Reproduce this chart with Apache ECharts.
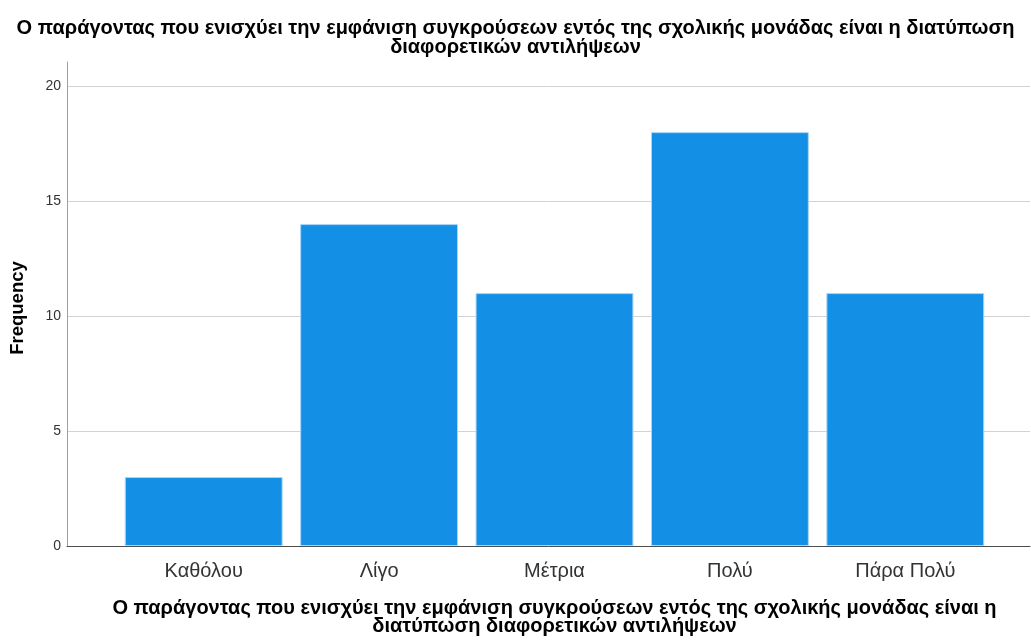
<!DOCTYPE html>
<html>
<head>
<meta charset="utf-8">
<script src="https://cdn.jsdelivr.net/npm/echarts@6/dist/echarts.min.js"></script>
<style>
  html, body { margin: 0; padding: 0; background: #fff; }
  #main { width: 1031px; height: 641px; }
</style>
</head>
<body>
<div id="main"></div>
<script>
var titleText = 'Ο παράγοντας που ενισχύει την εμφάνιση συγκρούσεων εντός της σχολικής μονάδας είναι η διατύπωση\nδιαφορετικών αντιλήψεων';
var axisTitle = 'Ο παράγοντας που ενισχύει την εμφάνιση συγκρούσεων εντός της σχολικής μονάδας είναι η\nδιατύπωση διαφορετικών αντιλήψεων';
var categories = ['Καθόλου', 'Λίγο', 'Μέτρια', 'Πολύ', 'Πάρα Πολύ'];
var frequencies = [3, 14, 11, 18, 11];
var yMax = 21.05;

var font = '"Liberation Sans", Arial, sans-serif';

var option = {
    backgroundColor: '#ffffff',
    animation: false,
    title: {
        text: titleText,
        left: 'center',
        top: 14,
        textStyle: {
            fontFamily: font,
            fontSize: 20,
            fontWeight: 'bold',
            color: '#000',
            lineHeight: 19
        }
    },
    grid: [
        // frame: axis lines + grid lines over the full width
        { left: 67, right: 1, top: 62, bottom: 95, outerBoundsMode: 'none' },
        // bars
        { left: 116, right: 38, top: 62, bottom: 95, outerBoundsMode: 'none' }
    ],
    xAxis: [
        {
            gridIndex: 0,
            type: 'value',
            min: 0,
            max: 1,
            axisLine: { show: true, lineStyle: { color: '#4d4d4d', width: 1 } },
            axisTick: { show: false },
            axisLabel: { show: false },
            splitLine: { show: false }
        },
        {
            gridIndex: 1,
            type: 'category',
            data: categories,
            axisLine: { show: false },
            axisTick: { show: false },
            axisLabel: {
                fontFamily: font,
                fontSize: 20,
                color: '#333',
                margin: 15
            },
            name: axisTitle,
            nameLocation: 'middle',
            nameGap: 53,
            nameTextStyle: {
                fontFamily: font,
                fontSize: 20,
                fontWeight: 'bold',
                color: '#000',
                lineHeight: 18
            }
        }
    ],
    yAxis: [
        {
            gridIndex: 0,
            type: 'value',
            min: 0,
            max: yMax,
            interval: 5,
            axisLine: { show: true, lineStyle: { color: '#a0a0a0', width: 1 } },
            axisTick: { show: false },
            axisLabel: {
                fontFamily: font,
                fontSize: 14,
                color: '#333',
                margin: 6,
                showMaxLabel: false
            },
            splitLine: {
                show: true,
                lineStyle: {
                    color: ['rgba(0,0,0,0)', '#d2d2d2', '#d2d2d2', '#d2d2d2', '#d2d2d2', 'rgba(0,0,0,0)'],
                    width: 1
                }
            },
            name: 'Frequency',
            nameLocation: 'middle',
            nameGap: 40,
            nameTextStyle: {
                fontFamily: font,
                fontSize: 18.5,
                fontWeight: 'bold',
                color: '#000',
                padding: [0, 8, 0, 0]
            }
        },
        {
            gridIndex: 1,
            type: 'value',
            min: 0,
            max: yMax,
            show: false
        }
    ],
    series: [
        {
            type: 'bar',
            xAxisIndex: 1,
            yAxisIndex: 1,
            data: frequencies,
            barCategoryGap: '10%',
            itemStyle: {
                color: '#1390e6',
                borderColor: '#a9d6f7',
                borderWidth: 1
            },
            z: 3
        }
    ]
};

var myChart = echarts.init(document.getElementById('main'));
myChart.setOption(option);
</script>
</body>
</html>
